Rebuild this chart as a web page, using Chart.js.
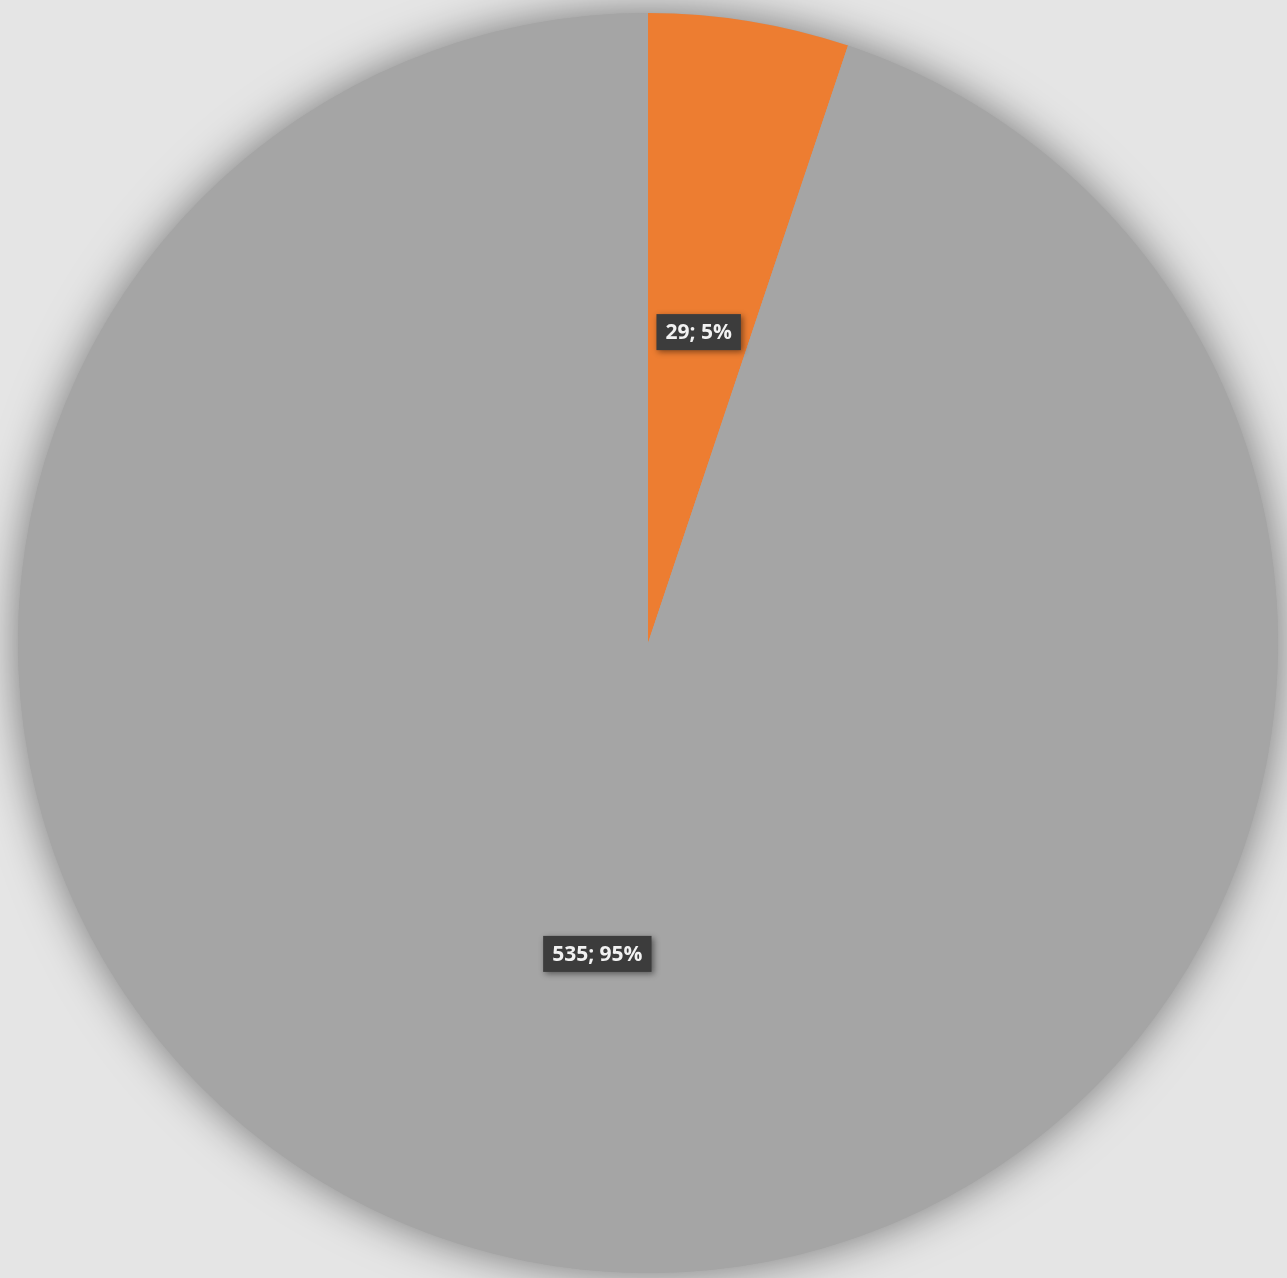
<!DOCTYPE html>
<html>
<head>
<meta charset="utf-8">
<script src="https://cdn.jsdelivr.net/npm/chart.js@4/dist/chart.umd.min.js"></script>
<style>
  html, body { margin: 0; padding: 0; background: #e4e4e4; }
  #wrap { width: 1287px; height: 1278px; position: relative; }
</style>
</head>
<body>
<div id="wrap"><canvas id="c" width="1287" height="1278"></canvas></div>
<script>
const categories = ["A", "B"];
const values = [29, 535];
const percentLabels = ["5%", "95%"];
const sliceColors = ["#ed7d31", "#a5a5a5"];

const bgPlugin = {
  id: 'bgShadow',
  beforeDraw(chart) {
    const ctx = chart.ctx;
    ctx.save();
    ctx.fillStyle = '#e5e5e5';
    ctx.fillRect(0, 0, chart.width, chart.height);
    ctx.restore();
  },
  beforeDatasetsDraw(chart) {
    const meta = chart.getDatasetMeta(0);
    const arc = meta.data[0];
    if (!arc) return;
    const ctx = chart.ctx;
    ctx.save();
    ctx.shadowColor = 'rgba(0,0,0,0.5)';
    ctx.shadowBlur = 45;
    ctx.shadowOffsetX = 0;
    ctx.shadowOffsetY = 0;
    ctx.fillStyle = '#a5a5a5';
    ctx.beginPath();
    ctx.arc(arc.x, arc.y, arc.outerRadius, 0, Math.PI * 2);
    ctx.fill();
    ctx.restore();
  }
};

const labelPlugin = {
  id: 'boxLabels',
  afterDatasetsDraw(chart) {
    const ctx = chart.ctx;
    const meta = chart.getDatasetMeta(0);
    meta.data.forEach((el, i) => {
      const p = el.tooltipPosition();
      const text = values[i] + '; ' + percentLabels[i];
      ctx.save();
      ctx.font = 'bold 21px "Open Sans", "DejaVu Sans", sans-serif';
      const w = ctx.measureText(text).width + 18;
      const h = 36;
      ctx.shadowColor = 'rgba(0,0,0,0.45)';
      ctx.shadowBlur = 6;
      ctx.shadowOffsetX = 2;
      ctx.shadowOffsetY = 2;
      ctx.fillStyle = '#3c3c3c';
      ctx.fillRect(p.x - w / 2, p.y - h / 2, w, h);
      ctx.shadowColor = 'transparent';
      ctx.fillStyle = '#f2f2f2';
      ctx.textAlign = 'center';
      ctx.textBaseline = 'middle';
      ctx.fillText(text, p.x, p.y + 1);
      ctx.restore();
    });
  }
};

new Chart(document.getElementById('c'), {
  type: 'pie',
  data: {
    labels: categories,
    datasets: [{
      data: values,
      backgroundColor: sliceColors,
      borderWidth: 0
    }]
  },
  options: {
    responsive: false,
    animation: false,
    layout: { padding: { left: 18, right: 9, top: 13, bottom: 5 } },
    plugins: {
      legend: { display: false },
      tooltip: { enabled: false }
    }
  },
  plugins: [bgPlugin, labelPlugin]
});
</script>
</body>
</html>
